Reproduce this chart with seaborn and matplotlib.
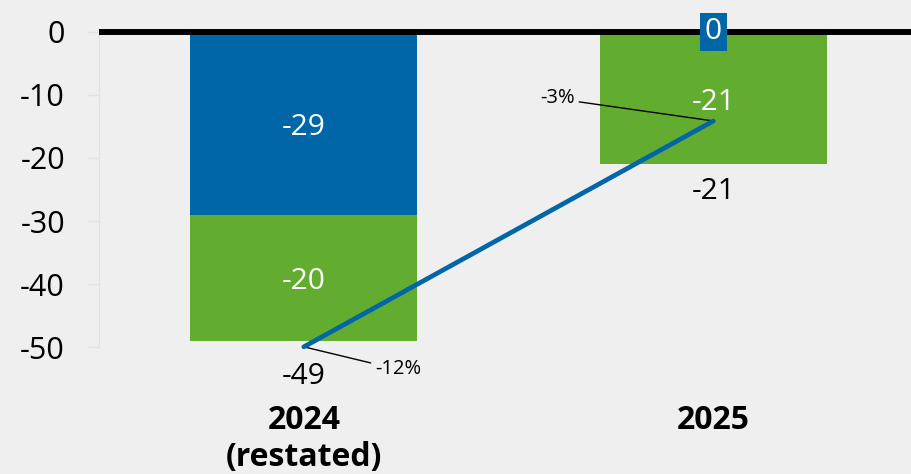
import numpy as np
import pandas as pd
import matplotlib
matplotlib.use("Agg")
import matplotlib.pyplot as plt
import seaborn as sns

categories = ["2024\n(restated)", "2025"]
blue_values = [-29, 0]
green_values = [-20, -21]
totals = [-49, -21]
pct_values = [-12, -3]
pct_labels = ["-12%", "-3%"]
y_ticks = [0, -10, -20, -30, -40, -50]

BLUE = "#0066A8"
GREEN = "#62AD2F"
BG = "#EFEFEF"

sns.set_style("white")
plt.rcParams["font.family"] = ["Open Sans", "DejaVu Sans"]
plt.rcParams["text.color"] = "black"
plt.rcParams["xtick.color"] = "black"
plt.rcParams["ytick.color"] = "black"

fig = plt.figure(figsize=(9.12, 4.74), dpi=100, facecolor=BG)
ax = fig.add_axes([0.1086, 0.2413, 0.8914, 0.7311])
ax.set_facecolor(BG)

df = pd.DataFrame({
    "cat": categories,
    "blue": blue_values,
    "green": green_values,
    "total": [b + g for b, g in zip(blue_values, green_values)],
})

# stacked downward: draw full total in green, then blue segment on top
sns.barplot(data=df, x="cat", y="total", color=GREEN, saturation=1, width=0.555,
            linewidth=0, edgecolor="none", ax=ax, zorder=2)
sns.barplot(data=df, x="cat", y="blue", color=BLUE, saturation=1, width=0.555,
            linewidth=0, edgecolor="none", ax=ax, zorder=3)

ax.set_xlim(-0.5, 1.485)
ax.set_ylim(-52, 3)
ax.axhline(0, color="black", lw=4.3, zorder=4)

ax.set_yticks(y_ticks)
ax.set_yticklabels([str(t) for t in y_ticks], fontsize=22, color="black")
ax.tick_params(axis="y", length=8.6, width=1, color="#E2E2E2", pad=16, labelcolor="black")
ax.tick_params(axis="x", length=0, pad=32, labelcolor="black")
for lab in ax.get_xticklabels():
    lab.set_fontsize(23)
    lab.set_fontweight("bold")
    lab.set_linespacing(1.15)
ax.set_xlabel("")
ax.set_ylabel("")
for s in ["top", "right", "bottom"]:
    ax.spines[s].set_visible(False)
ax.spines["left"].set_color("#E2E2E2")
ax.spines["left"].set_bounds(-50, 0)

LBL = 21.5
# segment labels
for i in range(len(categories)):
    b = blue_values[i]
    g = green_values[i]
    if b != 0:
        ax.annotate(str(b), xy=(i, b / 2), xytext=(0, -3), textcoords="offset points",
                    color="white", fontsize=LBL, ha="center", va="center", zorder=6)
    else:
        ax.annotate(str(b), xy=(i, 0), xytext=(0, 0), textcoords="offset points",
                    color="white", fontsize=LBL, ha="center", va="center", zorder=6,
                    bbox=dict(boxstyle="square,pad=0.16", fc=BLUE, ec="none"))
    ax.annotate(str(g), xy=(i, b + g / 2), xytext=(0, -3), textcoords="offset points",
                color="white", fontsize=LBL, ha="center", va="center", zorder=6)

total_offsets = [-25.5, -19.5]
for i, t in enumerate(totals):
    ax.annotate(str(t), xy=(i, t), xytext=(0, total_offsets[i]), textcoords="offset points",
                ha="center", va="center", fontsize=LBL, color="black", annotation_clip=False)

# percentage line on secondary axis
ax2 = ax.twinx()
ax2.set_ylim(-12.51, 1.30)
sns.lineplot(x=np.arange(len(categories)), y=pct_values, color=BLUE, lw=3.4, ax=ax2,
             solid_capstyle="round", zorder=5)
ax2.set_axis_off()

pct_offsets = [(51.5, -16.0), (-100.0, 16.4)]
pct_ha = ["left", "right"]
pct_relpos = [(0, 0.75), (1, 0.35)]
for i, (p, lab) in enumerate(zip(pct_values, pct_labels)):
    ax2.annotate(lab, xy=(i, p), xytext=pct_offsets[i], textcoords="offset points",
                 ha=pct_ha[i], va="center", fontsize=14.5, color="black", annotation_clip=False,
                 arrowprops=dict(arrowstyle="-", color="black", lw=1, shrinkA=1, shrinkB=0,
                                 relpos=pct_relpos[i]))

fig.savefig("out.png", dpi=100, facecolor=BG)
